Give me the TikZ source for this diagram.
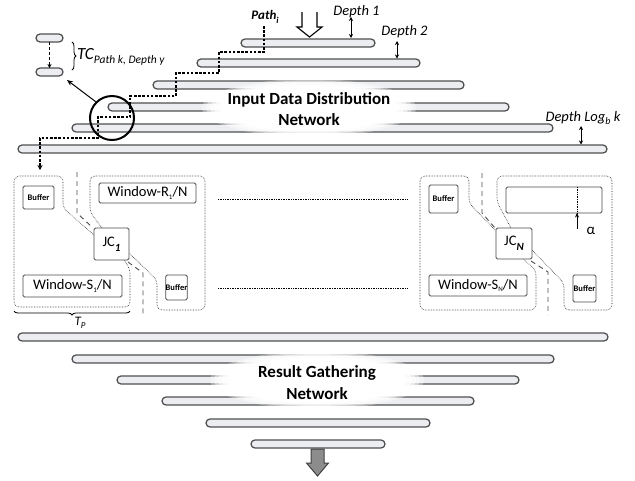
\documentclass[tikz,border=0pt]{standalone}
\usepackage{fontspec}
\setmainfont{Carlito}
\usetikzlibrary{arrows.meta,decorations.pathreplacing}

\definecolor{barfill}{HTML}{ECEDF0}
\definecolor{barline}{HTML}{4F4F4F}
\definecolor{boxline}{HTML}{4A4A4A}
\definecolor{outarrow}{HTML}{8C8C8C}

\newcommand\fsNet{\fontsize{17}{19}\selectfont\bfseries}
\newcommand\fsDepth{\fontsize{14.5}{16}\selectfont\itshape}
\newcommand\fsWin{\fontsize{14.5}{16}\selectfont}
\newcommand\fsBuf{\fontsize{8.5}{10}\selectfont\bfseries}
\newcommand\fsSub{\fontsize{7}{8}\selectfont}
% soft white halo behind a caption: translucent rim around a solid core
\newcommand\softhalo[1]{%
  \fill[white, opacity=0.35] (#1) ellipse [x radius=107, y radius=29];
  \fill[white, opacity=0.45] (#1) ellipse [x radius=103, y radius=27.5];
  \fill[white, opacity=0.55] (#1) ellipse [x radius=99, y radius=26];
  \fill[white, opacity=0.65] (#1) ellipse [x radius=95, y radius=24.5];
  \fill[white] (#1) ellipse [x radius=90, y radius=23];
}

\tikzset{
  bar/.style={draw=barline, fill=barfill, line width=1.25pt, rounded corners=4pt,
              minimum height=8pt, inner sep=0pt, outer sep=0pt},
  box/.style={draw=boxline, fill=white, line width=0.9pt, rounded corners=1.5pt,
              inner sep=0pt, outer sep=0pt},
  grp/.style={draw=black!85, densely dotted, line width=0.6pt, rounded corners=5pt},
  lane/.style={draw=black!70, dash pattern=on 5pt off 4pt, line width=0.9pt},
  route/.style={draw=black, dash pattern=on 2.6pt off 1.6pt, line width=1.2pt},
  depth/.style={line width=0.8pt, {Stealth[length=4pt,width=4pt]}-{Stealth[length=4pt,width=4pt]}},
  lbl/.style={inner sep=0pt, outer sep=0pt},
}

\begin{document}
\begin{tikzpicture}[x=1pt, y=-1pt]
\useasboundingbox (0,0) rectangle (635,480);

% ---------- input data distribution network ----------
\node[bar, minimum width=134] (b1) at (308,43) {};
\node[bar, minimum width=223] (b2) at (308.5,63) {};
\node[bar, minimum width=311] (b3) at (308.5,85) {};
\node[bar, minimum width=401] (b4) at (308.5,107) {};
\node[bar, minimum width=481] (b5) at (312.5,128) {};
\node[bar, minimum width=589] (b6) at (312.5,149) {};

\coordinate (inC) at (309,108);
\softhalo{inC}
\node[lbl] (inA) at (309,100) {\fsNet Input Data Distribution};
\node[lbl] (inB) at (309,120) {\fsNet Network};

% incoming stream
\filldraw[fill=white, draw=black, line width=1.1pt, line join=miter]
  (302,12) -- (302,27) -- (297,27) -- (309.5,37) -- (322,27) -- (317,27) -- (317,12);

% depth markers
\coordinate (d1a) at (351,17);  \coordinate (d1b) at (351,38);
\coordinate (d2a) at (397,41);  \coordinate (d2b) at (397,58.5);
\coordinate (dla) at (581,126); \coordinate (dlb) at (581,144.5);
\draw[depth] (d1a) -- (d1b);
\draw[depth] (d2a) -- (d2b);
\draw[depth] (dla) -- (dlb);
\node[lbl] (dep1) at (356.5,12) {\fsDepth Depth 1};
\node[lbl] (dep2) at (404.5,32) {\fsDepth Depth 2};
\node[lbl] (depL) at (583,118) {\fsDepth Depth Log\raisebox{-3pt}{\fontsize{10}{10}\selectfont b} k};

% path of one tuple through the tree
\node[lbl] (pathi) at (265,17) {\fontsize{13}{14}\selectfont\bfseries\itshape Path\raisebox{-4pt}{\fontsize{9}{9}\selectfont i}};
\coordinate (rstart) at (264,26);
\coordinate (rend) at (40,170);
\draw[route, -{Stealth[length=5pt,width=5pt]}] (rstart) -- (264,52) -- (219,52) -- (219,73)
  -- (176,73) -- (176,96) -- (130,96) -- (130,117) -- (98,117) -- (98,138)
  -- (40,138) -- (rend);

% magnified hop: transfer cost between two levels
\node[draw=black, line width=2pt, circle, minimum size=44pt, inner sep=0pt] (zoomc) at (112,118) {};
\node[bar, minimum width=27] (tc1) at (49.5,38) {};
\node[bar, minimum width=27] (tc2) at (49.5,72) {};
\draw[black, densely dashed, line width=0.8pt, -{Stealth[length=4pt,width=4pt]}] (tc1.south) -- (tc2.north);
\coordinate (brt) at (72,42);
\coordinate (brb) at (72,70);
\draw[line width=0.8pt, decorate, decoration={brace, amplitude=4pt}] (brt) -- (brb);
\node[lbl, anchor=west] (tclbl) at (77,57) {\fontsize{17}{18}\selectfont\itshape TC\raisebox{-4.5pt}{\fontsize{11.5}{12}\selectfont Path k, Depth y}};
\coordinate (tctip) at (67,80);
\draw[line width=1pt, -{Stealth[length=6pt,width=5pt]}] (zoomc.135) -- (tctip);

% ---------- join cores ----------
% core 1
\draw[grp] (94,235) -- (63,208) -- (63,176) -- (14,176) -- (14,307) -- (130,307) -- (130,269) -- (124,260);
\draw[grp] (102,228) -- (90,212) -- (90,176) -- (205,176) -- (205,310) -- (157,310) -- (157,280) -- (129,253);
\draw[lane] (77,172) -- (77,213) -- (93,228);
\draw[lane] (128,262) -- (143,273) -- (143,316);
\node[box, minimum width=31, minimum height=23] (buf1) at (38.5,197.5) {\fsBuf Buffer};
\node[box, minimum width=97, minimum height=20] (winR1) at (147.5,193) {\fsWin Window-R\raisebox{-2.5pt}{\fsSub 1}/N};
\node[box, minimum width=99, minimum height=22] (winS1) at (72.5,286) {\fsWin Window-S\raisebox{-2.5pt}{\fsSub 1}/N};
\node[box, minimum width=21, minimum height=25] (buf2) at (176.5,287.5) {\fsBuf Buffer};
\node[box, minimum width=35, minimum height=32] (jc1) at (111.5,244) {\fsWin JC\raisebox{-5pt}{\fontsize{11}{12}\selectfont\bfseries\itshape 1}};

% core N
\draw[grp] (495,230) -- (469,203) -- (469,176) -- (420,176) -- (420,310) -- (536,310) -- (536,270) -- (523,259);
\draw[grp] (511,228) -- (497,202) -- (497,176) -- (612,176) -- (612,310) -- (564,310) -- (564,283) -- (532,250);
\draw[lane] (482,173) -- (482,213) -- (495,228);
\draw[lane] (531,261) -- (548,272) -- (548,315);
\node[box, minimum width=29, minimum height=28] (buf3) at (443.5,199) {\fsBuf Buffer};
\node[box, minimum width=96, minimum height=26] (winRN) at (554,200) {};
\node[box, minimum width=98, minimum height=21] (winSN) at (478,285.5) {\fsWin Window-S\raisebox{-2.5pt}{\fsSub N}/N};
\node[box, minimum width=23, minimum height=27] (buf4) at (584.5,288.5) {\fsBuf Buffer};
\node[box, minimum width=36, minimum height=31] (jcN) at (514,243.5) {\fsWin JC\raisebox{-5pt}{\fontsize{11}{12}\selectfont\bfseries\itshape N}};

% window offset marker
\coordinate (alA) at (577,187);
\coordinate (alB) at (577,213);
\coordinate (alC) at (577,229);
\draw[densely dotted, line width=0.7pt] (alA) -- (alB);
\draw[line width=0.9pt, -{Stealth[length=4.5pt,width=4pt]}] (alC) -- (alB);
\node[lbl] (alpha) at (591,231) {\fontsize{15}{16}\selectfont α};

% cores 2 .. N-1 omitted
\coordinate (e1a) at (218,199); \coordinate (e1b) at (407,199);
\coordinate (e2a) at (218,288); \coordinate (e2b) at (407,288);
\draw[densely dotted, line width=0.7pt] (e1a) -- (e1b);
\draw[densely dotted, line width=0.7pt] (e2a) -- (e2b);

% processing time span
\coordinate (tpa) at (130,311);
\coordinate (tpb) at (14,311);
\draw[line width=0.8pt, decorate, decoration={brace, amplitude=4pt}] (tpa) -- (tpb);
\node[lbl] (tp) at (80,323) {\fontsize{13}{14}\selectfont\itshape T\raisebox{-3pt}{\fontsize{9}{9}\selectfont P}};

% ---------- result gathering network ----------
\node[bar, minimum width=590] (r1) at (313,337) {};
\node[bar, minimum width=482] (r2) at (313,359) {};
\node[bar, minimum width=402] (r3) at (318,380) {};
\node[bar, minimum width=312] (r4) at (318,401) {};
\node[bar, minimum width=224] (r5) at (318,423) {};
\node[bar, minimum width=134] (r6) at (318,444) {};

\coordinate (outC) at (317,380);
\softhalo{outC}
\node[lbl] (outA) at (317,373) {\fsNet Result Gathering};
\node[lbl] (outB) at (317,394) {\fsNet Network};

% outgoing stream
\filldraw[fill=outarrow, draw=black!75, line width=1pt, line join=miter]
  (311,449) -- (311,463) -- (306.5,463) -- (317.5,476) -- (328.5,463) -- (324,463) -- (324,449) -- cycle;
\end{tikzpicture}
\end{document}
